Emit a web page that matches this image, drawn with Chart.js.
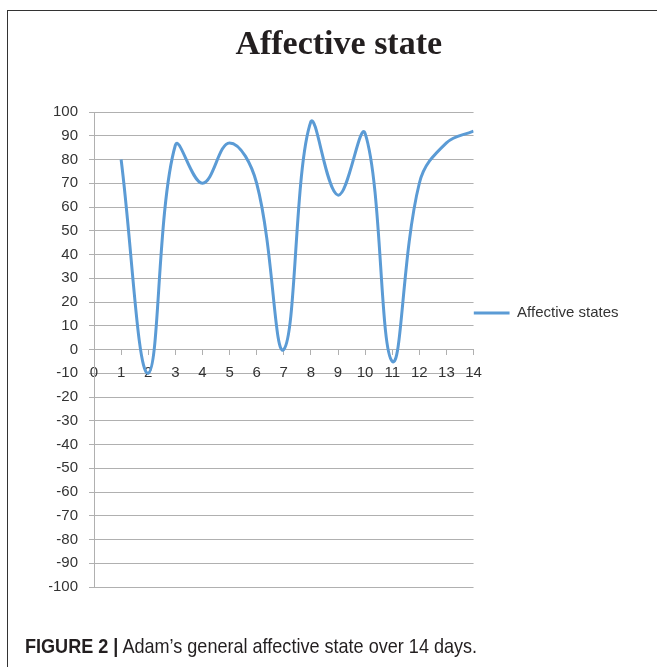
<!DOCTYPE html>
<html>
<head>
<meta charset="utf-8">
<script src="https://cdn.jsdelivr.net/npm/chart.js@4"></script>
<style>
  html, body { margin: 0; padding: 0; background: #fff; }
  body { width: 657px; height: 667px; position: relative; overflow: hidden; }
  #frame { position: absolute; left: 7px; top: 10px; width: 700px; height: 700px;
           border-left: 1.5px solid #333; border-top: 1.5px solid #333; }
  #wrap { position: absolute; left: 0; top: 0; width: 657px; height: 667px; }
  #caption { position: absolute; left: 25px; top: 635px; font-family: "Liberation Sans", Arial, sans-serif;
             font-size: 21px; line-height: 21px; color: #231f20; white-space: nowrap;
             transform: scaleX(0.86); transform-origin: 0 0; }
  #caption b { font-weight: bold; }
</style>
</head>
<body>
<div id="frame"></div>
<div id="wrap"><canvas id="c" width="657" height="667"></canvas></div>
<div id="caption"><b>FIGURE 2 |</b> Adam’s general affective state over 14 days.</div>
<script>
const chartTitle = 'Affective state';
const seriesName = 'Affective states';
const days = [1, 2, 3, 4, 5, 6, 7, 8, 9, 10, 11, 12, 13, 14];
const affect = [80, -10, 86, 70, 87, 70, 0, 96, 65, 91, -5, 70, 87, 92];
const yMin = -100, yMax = 100, yStep = 10;
const xMin = 0, xMax = 14, xStep = 1;

const points = days.map((d, i) => ({ x: d, y: affect[i] }));
const gridColor = '#b0b0b0';
const tickFont = { family: '"Liberation Sans", Arial, sans-serif', size: 15 };

new Chart(document.getElementById('c'), {
  type: 'line',
  data: {
    datasets: [{
      label: seriesName,
      data: points,
      borderColor: '#5b9bd5',
      backgroundColor: '#5b9bd5',
      borderWidth: 3,
      pointRadius: 0,
      pointStyle: 'line',
      tension: 0.4,
      fill: false
    }]
  },
  options: {
    responsive: false,
    animation: false,
    events: [],
    layout: { padding: { left: 49, right: 28.5, top: 0, bottom: 80 } },
    scales: {
      x: {
        type: 'linear',
        min: xMin, max: xMax,
        position: { y: 0 },
        ticks: { stepSize: xStep, color: '#333', font: tickFont, padding: 9, maxRotation: 0 },
        grid: { drawOnChartArea: false, drawTicks: true, tickLength: 5, color: gridColor },
        border: { display: true, color: gridColor, width: 1 }
      },
      y: {
        type: 'linear',
        min: yMin, max: yMax,
        afterFit: s => { s.width = 45; },
        ticks: { stepSize: yStep, color: '#333', font: tickFont, padding: 11 },
        grid: { color: gridColor, tickLength: 5, drawTicks: true },
        border: { display: true, color: gridColor, width: 1 }
      }
    },
    plugins: {
      title: {
        display: true,
        text: chartTitle,
        color: '#231f20',
        font: { family: '"Liberation Serif", "Times New Roman", serif', size: 34, weight: 'bold', lineHeight: 1.2 },
        padding: { top: 25, bottom: 46.2 }
      },
      legend: {
        display: true,
        position: 'right',
        align: 'start',
        maxWidth: 220,
        title: { display: true, text: ' ', font: { size: 10, lineHeight: 1 }, padding: { top: 295.5, bottom: 0 } },
        labels: {
          usePointStyle: true,
          pointStyleWidth: 36,
          padding: 0,
          color: '#333',
          font: tickFont
        }
      },
      tooltip: { enabled: false }
    }
  }
});
</script>
</body>
</html>
